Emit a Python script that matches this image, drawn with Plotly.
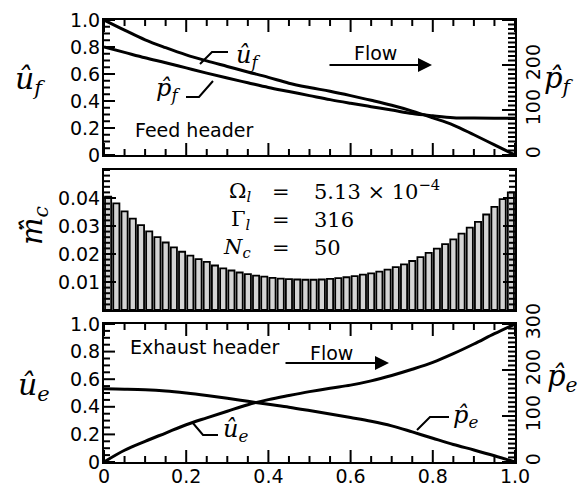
import plotly.graph_objects as go

W, H = 586, 486

# ---------------- data ----------------
x_pos = [0.0, 0.05, 0.1, 0.15, 0.2, 0.25, 0.3, 0.35, 0.4, 0.45, 0.5,
         0.55, 0.6, 0.65, 0.7, 0.75, 0.8, 0.85, 0.9, 0.95, 1.0]

# feed header
u_f = [1.0, 0.925, 0.853, 0.795, 0.742, 0.697, 0.656, 0.615, 0.575, 0.532, 0.50,
       0.472, 0.44, 0.405, 0.368, 0.325, 0.275, 0.222, 0.15, 0.075, 0.0]
p_f = [240, 228, 216, 205, 193.5, 182, 171, 160.5, 150, 141, 132,
       123, 115, 107.4, 100, 92, 87, 83, 82, 81.6, 81.6]

# exhaust header
u_e = [0.0, 0.085, 0.15, 0.21, 0.27, 0.32, 0.368, 0.415, 0.452, 0.482, 0.51,
       0.535, 0.557, 0.588, 0.627, 0.672, 0.722, 0.785, 0.855, 0.93, 1.0]
p_e = [159, 158.4, 157.2, 154.5, 150, 144.6, 138.6, 132, 125.4, 119.1, 111.9,
       104.4, 96.6, 88.5, 78.6, 65.4, 51.6, 38.1, 26.1, 13.5, 0.0]

# channel mass flow rates (N_c = 50)
m_c = [0.0405, 0.0381, 0.0352, 0.0326, 0.0303, 0.0281, 0.0260, 0.0241, 0.0224, 0.0208,
       0.0194, 0.0182, 0.0172, 0.0159, 0.0149, 0.0141, 0.0134, 0.0128, 0.0123, 0.0119,
       0.0115, 0.0112, 0.0110, 0.0109, 0.0108, 0.0108, 0.0109, 0.0111, 0.0114, 0.0117,
       0.0121, 0.0126, 0.0131, 0.0137, 0.0144, 0.0153, 0.0163, 0.0175, 0.0189, 0.0204,
       0.0219, 0.0235, 0.0252, 0.0273, 0.0294, 0.0315, 0.0341, 0.0368, 0.0396, 0.0420]
n_c = len(m_c)
x_bar = [(i + 0.5) / n_c for i in range(n_c)]

u_ticks = [0, 0.2, 0.4, 0.6, 0.8, 1.0]
u_ticktext = ["0", "0.2", "0.4", "0.6", "0.8", "1.0"]
p_ticks = [0, 100, 200, 300]
p_ticktext = ["0", "100", "200", "300"]
m_ticks = [0.01, 0.02, 0.03, 0.04]
m_ticktext = ["0.01", "0.02", "0.03", "0.04"]

# axis ranges and minor tick steps
U_RANGE, P_RANGE, M_RANGE, X_RANGE = [0, 1], [0, 300], [0, 0.05], [0, 1]
u_minor_step, p_minor_step, m_minor_step = 0.05, 10, 0.002

# ---------------- layout geometry (pixels) ----------------
def px(x):
    return x / W

def py(y):
    return 1 - y / H

SANS = "DejaVu Sans"
SERIF = "DejaVu Serif"
LINE = dict(color="black", width=3)

XL, XR = 104, 515
TOP_PX, MID_PX, BOT_PX = (20, 155), (170, 310), (324, 462)
X_DOM = [px(XL), px(XR)]
TOP_DOM = [py(TOP_PX[1]), py(TOP_PX[0])]
MID_DOM = [py(MID_PX[1]), py(MID_PX[0])]
BOT_DOM = [py(BOT_PX[1]), py(BOT_PX[0])]

fig = go.Figure()

fig.add_trace(go.Scatter(x=x_pos, y=u_f, mode="lines", line=dict(LINE, shape="spline"),
                         xaxis="x", yaxis="y", showlegend=False))
fig.add_trace(go.Scatter(x=x_pos, y=p_f, mode="lines", line=dict(LINE, shape="spline"),
                         xaxis="x", yaxis="y2", showlegend=False))
fig.add_trace(go.Bar(x=x_bar, y=m_c, xaxis="x2", yaxis="y3", showlegend=False,
                     marker=dict(color="#d4d4d4", line=dict(color="black", width=1.8))))
fig.add_trace(go.Scatter(x=x_pos, y=u_e, mode="lines", line=dict(LINE, shape="spline"),
                         xaxis="x3", yaxis="y4", showlegend=False))
fig.add_trace(go.Scatter(x=x_pos, y=p_e, mode="lines", line=dict(LINE, shape="spline"),
                         xaxis="x3", yaxis="y5", showlegend=False))

# ---------------- inside tick marks (drawn as line traces) ----------------
def steps(lo, hi, step):
    n = int(round((hi - lo) / step))
    return [lo + k * step for k in range(n + 1)]

def is_major(v, major):
    return any(abs(v - m) < 1e-9 for m in major)

def add_yticks(xa, ya, yrange, side, major, step, lmaj, lmin):
    xs, ys = [], []
    xpp = (X_RANGE[1] - X_RANGE[0]) / (XR - XL)          # data per pixel along x
    for v in steps(yrange[0], yrange[1], step):
        ln = (lmaj if is_major(v, major) else lmin) * xpp
        if side == "left":
            xs += [X_RANGE[0], X_RANGE[0] + ln, None]
        else:
            xs += [X_RANGE[1], X_RANGE[1] - ln, None]
        ys += [v, v, None]
    fig.add_trace(go.Scatter(x=xs, y=ys, mode="lines", xaxis=xa, yaxis=ya, showlegend=False,
                             hoverinfo="skip", line=dict(color="black", width=2)))

def add_xticks(xa, ya, panel_px, major, step, lmaj, lmin):
    xs, ys = [], []
    ypp = (U_RANGE[1] - U_RANGE[0]) / (panel_px[1] - panel_px[0])
    for v in steps(X_RANGE[0], X_RANGE[1], step):
        ln = (lmaj if is_major(v, major) else lmin) * ypp
        xs += [v, v, None, v, v, None]
        ys += [U_RANGE[0], U_RANGE[0] + ln, None, U_RANGE[1], U_RANGE[1] - ln, None]
    fig.add_trace(go.Scatter(x=xs, y=ys, mode="lines", xaxis=xa, yaxis=ya, showlegend=False,
                             hoverinfo="skip", line=dict(color="black", width=2)))

# top panel
add_xticks("x", "y", TOP_PX, u_ticks, u_minor_step, 12, 6)
add_yticks("x", "y", U_RANGE, "left", u_ticks, u_minor_step, 11, 6)
add_yticks("x", "y2", P_RANGE, "right", p_ticks, p_minor_step, 13, 7)
# middle panel
add_yticks("x2", "y3", M_RANGE, "left", m_ticks, m_minor_step, 12, 6)
add_yticks("x2", "y3", M_RANGE, "right", m_ticks, m_minor_step, 12, 6)
# bottom panel
add_xticks("x3", "y4", BOT_PX, u_ticks, u_minor_step, 12, 6)
add_yticks("x3", "y4", U_RANGE, "left", u_ticks, u_minor_step, 11, 6)
add_yticks("x3", "y5", P_RANGE, "right", p_ticks, p_minor_step, 13, 7)

# ---------------- axes ----------------
tickfont = dict(family=SANS, size=19, color="black")
COMMON = dict(showline=True, linecolor="black", linewidth=2, ticks="", showgrid=False,
              zeroline=False, tickfont=tickfont, automargin=False)

def xax(anchor, labels):
    return dict(COMMON, domain=X_DOM, anchor=anchor, range=X_RANGE, mirror=True,
                tickmode="array", tickvals=u_ticks, ticktext=u_ticktext,
                showticklabels=labels, ticklabelstandoff=-4)

def yleft(dom, anchor):
    return dict(COMMON, domain=dom, anchor=anchor, range=U_RANGE,
                tickmode="array", tickvals=u_ticks, ticktext=u_ticktext, ticklabelstandoff=-2)

def yright(over, anchor):
    return dict(COMMON, overlaying=over, anchor=anchor, side="right", range=P_RANGE,
                tickmode="array", tickvals=p_ticks, ticktext=p_ticktext, tickangle=-90)

fig.update_layout(
    template="none",
    width=W, height=H, margin=dict(l=0, r=0, t=0, b=0, pad=0, autoexpand=False),
    paper_bgcolor="white", plot_bgcolor="rgba(0,0,0,0)", bargap=0.25, showlegend=False,
    xaxis=xax("y", False),
    yaxis=yleft(TOP_DOM, "x"),
    yaxis2=yright("y", "x"),
    xaxis2=dict(domain=X_DOM, anchor="y3", range=X_RANGE, showline=True, linecolor="black",
                linewidth=2, mirror=True, ticks="", showticklabels=False, showgrid=False,
                zeroline=False, automargin=False),
    yaxis3=dict(COMMON, domain=MID_DOM, anchor="x2", range=M_RANGE, mirror=True,
                tickmode="array", tickvals=m_ticks, ticktext=m_ticktext, ticklabelstandoff=-2),
    xaxis3=xax("y4", True),
    yaxis4=yleft(BOT_DOM, "x3"),
    yaxis5=yright("y4", "x3"),
)

# ---------------- leader lines ----------------
def leader(points):
    d = "M " + " L ".join(f"{px(a):.5f},{py(b):.5f}" for a, b in points)
    return dict(type="path", xref="paper", yref="paper", path=d,
                line=dict(color="black", width=2))

shapes = [
    leader([(200, 64), (212, 52), (228, 52)]),
    leader([(186, 97), (199, 97), (213, 81)]),
    leader([(192, 422), (203, 435), (218, 435)]),
    leader([(417, 430), (430, 417), (449, 417)]),
]

# ---------------- annotations ----------------
ann = []

def text(x, y, t, size=18, family=SANS, xanchor="center", angle=0):
    ann.append(dict(xref="paper", yref="paper", x=px(x), y=py(y), text=t, showarrow=False,
                    xanchor=xanchor, yanchor="middle", textangle=angle,
                    font=dict(family=family, size=size, color="black")))

def arrow(x0, x1, y):
    ann.append(dict(xref="paper", yref="paper", axref="pixel", ayref="pixel",
                    x=px(x1), y=py(y), ax=-(x1 - x0), ay=0, text="", showarrow=True,
                    arrowhead=2, arrowsize=1.4, arrowwidth=2, arrowcolor="black"))

# axis titles
text(30, 80, "<i>û</i><sub><i>f</i></sub>", 30, SERIF)
text(34, 226, "<i>m\u0307\u0302</i><sub><i>c</i></sub>", 29, SERIF, angle=-90)
text(34, 386, "<i>û</i><sub><i>e</i></sub>", 30, SERIF)
text(559, 80, "<i>p\u0302</i><sub><i>f</i></sub>", 29, SERIF)
text(562, 378, "<i>p\u0302</i><sub><i>e</i></sub>", 29, SERIF)

# panel texts
text(133, 130, "Feed header", 19, SANS, xanchor="left")
text(128, 347, "Exhaust header", 19, SANS, xanchor="left")
text(375, 53, "Flow", 19, SANS)
text(331, 353, "Flow", 19, SANS)
arrow(328, 432, 65)
arrow(284, 389, 363)

# curve labels
text(248, 56, "<i>û</i><sub><i>f</i></sub>", 24, SERIF)
text(168, 90, "<i>p\u0302</i><sub><i>f</i></sub>", 24, SERIF)
text(235, 430, "<i>û</i><sub><i>e</i></sub>", 24, SERIF)
text(466, 416, "<i>p\u0302</i><sub><i>e</i></sub>", 24, SERIF)

# parameter block
text(253, 192, "Ω<sub><i>l</i></sub>", 21, SERIF, xanchor="right")
text(253, 220, "Γ<sub><i>l</i></sub>", 21, SERIF, xanchor="right")
text(253, 248, "<i>N</i><sub><i>c</i></sub>", 21, SERIF, xanchor="right")
for yy in (192, 220, 248):
    text(281, yy, "=", 21, SERIF)
text(312, 190, "5.13 × 10<sup>−4</sup>", 21, SERIF, xanchor="left")
text(312, 220, "316", 21, SERIF, xanchor="left")
text(312, 248, "50", 21, SERIF, xanchor="left")

fig.update_layout(annotations=ann, shapes=shapes)

fig.write_html("out.html", config={"displayModeBar": False},
               post_script="document.body.style.margin='0';document.body.style.padding='0';")
